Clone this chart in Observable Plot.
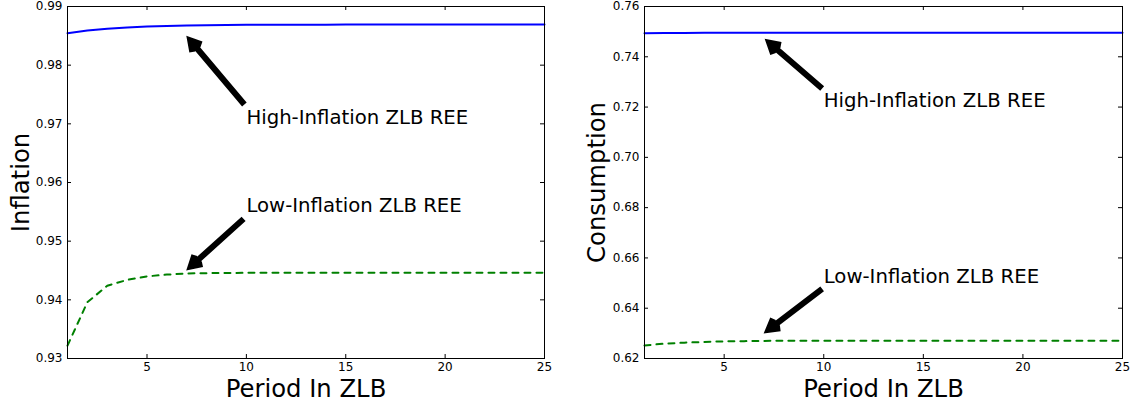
<!DOCTYPE html>
<html><head><meta charset="utf-8">
<script src="https://cdn.jsdelivr.net/npm/d3@7"></script>
<script src="https://cdn.jsdelivr.net/npm/@observablehq/plot@0.6"></script>
<style>
html,body{margin:0;padding:0;background:#fff;}
#wrap{position:relative;width:1133px;height:404px;overflow:hidden;background:#fff;}
#wrap svg{position:absolute;top:0;}
</style></head><body><div id="wrap"></div>
<script>
// ---- data ----
const periods = [1,2,3,4,5,6,7,8,9,10,11,12,13,14,15,16,17,18,19,20,21,22,23,24,25];
const inflationHigh = [0.98545,0.98589,0.98621,0.98643,0.98658,0.98669,0.98676,0.98681,0.98685,0.98687,0.98689,0.98690,0.98691,0.98691,0.98692,0.98692,0.98692,0.98692,0.98692,0.98692,0.98692,0.98692,0.98692,0.98692,0.98692];
const inflationLow = [0.9322,0.9396,0.9424,0.9434,0.9440,0.9443,0.9445,0.94455,0.94458,0.9446,0.9446,0.9446,0.9446,0.9446,0.9446,0.9446,0.9446,0.9446,0.9446,0.9446,0.9446,0.9446,0.9446,0.9446,0.9446];
const consumptionHigh = [0.74935,0.74945,0.7495,0.74954,0.74957,0.74959,0.7496,0.7496,0.7496,0.7496,0.7496,0.7496,0.7496,0.7496,0.7496,0.7496,0.7496,0.7496,0.7496,0.7496,0.7496,0.7496,0.7496,0.7496,0.7496];
const consumptionLow = [0.6252,0.6259,0.6263,0.6266,0.6268,0.6269,0.6270,0.62705,0.6271,0.6271,0.6271,0.6271,0.6271,0.6271,0.6271,0.6271,0.6271,0.6271,0.6271,0.6271,0.6271,0.6271,0.6271,0.6271,0.6271];

const xTicks = [5,10,15,20,25];
const inflationTicks = [0.93,0.94,0.95,0.96,0.97,0.98,0.99];
const consumptionTicks = [0.62,0.64,0.66,0.68,0.70,0.72,0.74,0.76];

const annotLabels = ["High-Inflation ZLB REE","Low-Inflation ZLB REE"];
const annotTextX = [10,10];
const inflationTextY = [0.97,0.955];
const consumptionTextY = [0.72,0.65];
// arrows: tail (x1,y1) -> tip (x2,y2), data units
const inflationArrowX1 = [9.90,9.86], inflationArrowY1 = [0.9733,0.9538];
const inflationArrowX2 = [7.01,7.01], inflationArrowY2 = [0.9849,0.9451];
const consumptionArrowX1 = [9.92,9.92], consumptionArrowY1 = [0.7274,0.6477];
const consumptionArrowX2 = [7.07,7.02], consumptionArrowY2 = [0.7469,0.6302];

// ---- drawing ----
const FONT = "DejaVu Sans";
function panel({left, width, marginLeft, marginRight, high, low, yDomain, yTicks, yLabel, textY, ax1, ay1, ax2, ay2, labelDx}) {
  const marginTop = 6, marginBottom = 46, height = 404;
  const innerW = width - marginLeft - marginRight;
  const innerH = height - marginTop - marginBottom;
  const tick = 4;
  const highData = periods.map((p,i) => ({x:p, y:high[i]}));
  const lowData = periods.map((p,i) => ({x:p, y:low[i]}));
  const ann = annotLabels.map((t,i) => ({t, x:annotTextX[i], y:textY[i], x1:ax1[i], y1:ay1[i], x2:ax2[i], y2:ay2[i]}));
  const svg = Plot.plot({
    width, height, marginLeft, marginRight, marginTop, marginBottom,
    style: {fontFamily: FONT, background: "white", color: "black", overflow: "visible"},
    x: {domain: [1,25]},
    y: {domain: yDomain},
    marks: [
      Plot.line(highData, {x:"x", y:"y", stroke:"#0000ff", strokeWidth:2}),
      Plot.line(lowData, {x:"x", y:"y", stroke:"#008000", strokeWidth:2, strokeDasharray:"6,6"}),
      // inward ticks on all four sides
      Plot.ruleX(xTicks, {x: d=>d, insetTop: innerH - tick, stroke:"black"}),
      Plot.ruleX(xTicks, {x: d=>d, insetBottom: innerH - tick, stroke:"black"}),
      Plot.ruleY(yTicks, {y: d=>d, insetRight: innerW - tick, stroke:"black"}),
      Plot.ruleY(yTicks, {y: d=>d, insetLeft: innerW - tick, stroke:"black"}),
      Plot.frame({stroke:"black", strokeWidth:1}),
      Plot.axisX({ticks: xTicks, tickSize: 0, tickPadding: 4, fontSize: 12, label: null, tickFormat: d3.format("d")}),
      Plot.axisY({ticks: yTicks, tickSize: 0, tickPadding: 5, fontSize: 12, label: null, tickFormat: d3.format(".2f")}),
      Plot.arrow(ann, {x1:"x1", y1:"y1", x2:"x2", y2:"y2", stroke:"black", strokeWidth:6, headAngle:60, headLength:3,
        strokeLinejoin:"miter", strokeMiterlimit:10, strokeLinecap:"butt", insetEnd:5}),
      Plot.text(ann, {x:"x", y:"y", text:"t", textAnchor:"start", lineAnchor:"bottom", fontSize:19.7, fill:"black"}),
      Plot.text(["Period In ZLB"], {text: d=>d, frameAnchor:"bottom", textAnchor:"middle", dy:38.7, lineAnchor:"bottom", fontSize:24.3, fill:"black"}),
      Plot.text([yLabel], {text: d=>d, frameAnchor:"left", textAnchor:"middle", rotate:-90, dx:labelDx, lineAnchor:"bottom", fontSize:24.3, fill:"black"})
    ]
  });
  svg.style.left = left + "px";
  return svg;
}

const wrap = document.getElementById("wrap");
wrap.appendChild(panel({left:0, width:566, marginLeft:67, marginRight:22,
  high: inflationHigh, low: inflationLow, yDomain:[0.93,0.99], yTicks: inflationTicks, yLabel:"Inflation",
  textY: inflationTextY, ax1: inflationArrowX1, ay1: inflationArrowY1, ax2: inflationArrowX2, ay2: inflationArrowY2, labelDx:-39}));
wrap.appendChild(panel({left:566, width:567, marginLeft:78, marginRight:11,
  high: consumptionHigh, low: consumptionLow, yDomain:[0.62,0.76], yTicks: consumptionTicks, yLabel:"Consumption",
  textY: consumptionTextY, ax1: consumptionArrowX1, ay1: consumptionArrowY1, ax2: consumptionArrowX2, ay2: consumptionArrowY2, labelDx:-40}));
</script>
</body></html>
